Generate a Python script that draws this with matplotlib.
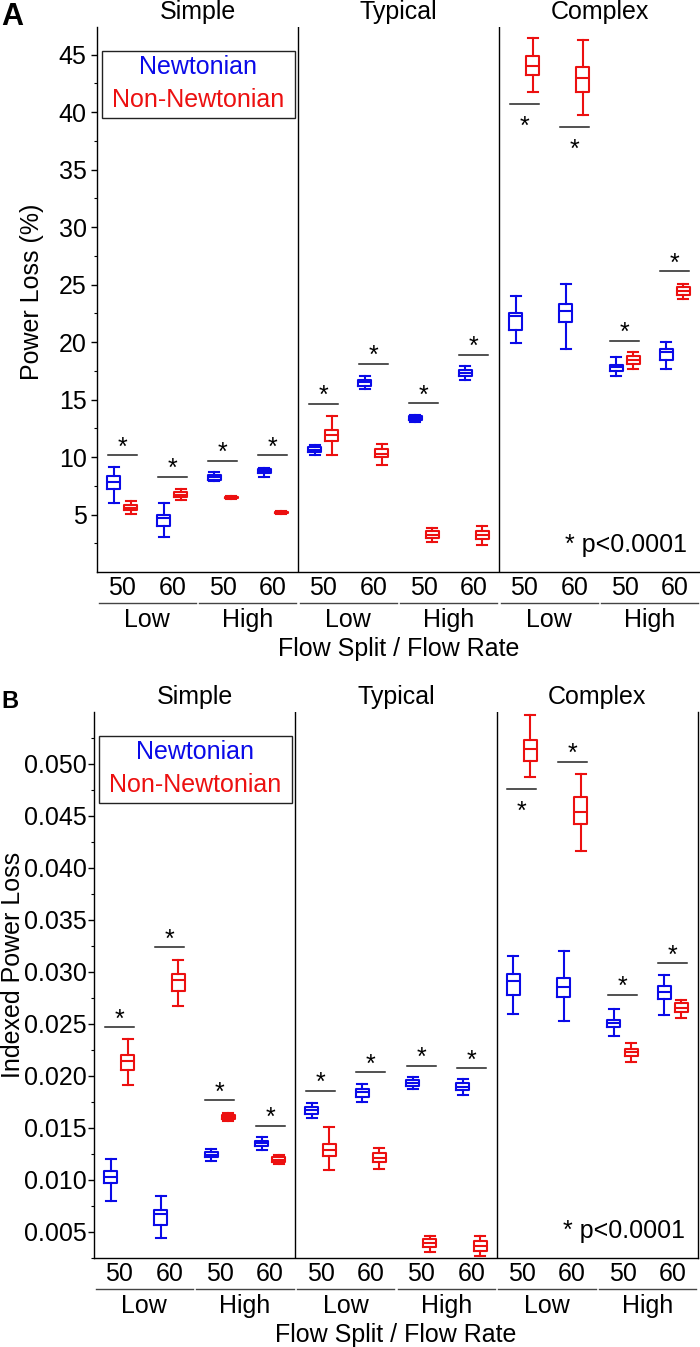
import matplotlib
matplotlib.use('Agg')
import matplotlib.pyplot as plt
import matplotlib.transforms as mtrans
from matplotlib.patches import Rectangle
from matplotlib.ticker import MultipleLocator, FormatStrFormatter

plt.rcParams['font.family'] = ['Liberation Sans', 'DejaVu Sans']

# ---------------- data ----------------
complexities = ['Simple', 'Typical', 'Complex']
flow_splits = ['Low', 'High']
flow_rates = ['50', '60']
fluids = ['Newtonian', 'Non-Newtonian']

# each tuple: (whisker low, q1, median, q3, whisker high); 12 groups:
# Simple L50, L60, H50, H60, Typical ..., Complex ...
powerloss_newtonian = [
    (5.98, 7.26, 7.81, 8.33, 9.15), (3.09, 3.98, 4.71, 5.00, 5.98),
    (7.90, 8.05, 8.25, 8.45, 8.70), (8.30, 8.60, 8.78, 8.95, 9.10),
    (10.16, 10.42, 10.65, 10.85, 11.09), (15.93, 16.20, 16.50, 16.74, 17.09),
    (13.10, 13.25, 13.40, 13.55, 13.65), (16.74, 17.03, 17.32, 17.55, 17.90),
    (19.93, 21.03, 22.25, 22.54, 24.04), (19.43, 21.72, 22.68, 23.35, 25.09),
    (17.03, 17.52, 17.81, 18.04, 18.71), (17.67, 18.48, 19.11, 19.41, 20.02),
]
powerloss_nonnewtonian = [
    (5.06, 5.37, 5.61, 5.81, 6.22), (6.24, 6.54, 6.74, 6.94, 7.26),
    (6.40, 6.45, 6.50, 6.55, 6.60), (5.10, 5.15, 5.20, 5.25, 5.30),
    (10.16, 11.37, 11.90, 12.33, 13.61), (9.35, 10.02, 10.30, 10.74, 11.15),
    (2.63, 2.97, 3.26, 3.55, 3.84), (2.33, 2.89, 3.26, 3.61, 3.98),
    (41.76, 43.20, 43.98, 44.85, 46.45), (39.72, 41.76, 42.94, 43.90, 46.24),
    (17.67, 18.13, 18.48, 18.77, 19.11), (23.76, 24.13, 24.48, 24.80, 25.09),
]
powerloss_sig = [10.16, 8.30, 9.67, 10.16, 14.65, 18.10, 14.70, 18.90,
                 40.71, 38.74, 20.13, 26.16]
powerloss_star_below = [False] * 8 + [True, True, False, False]

ipl_newtonian = [
    (0.00795, 0.00974, 0.01032, 0.01089, 0.01200), (0.00439, 0.00567, 0.00673, 0.00712, 0.00846),
    (0.01179, 0.01218, 0.01243, 0.01266, 0.01295), (0.01286, 0.01327, 0.01353, 0.01378, 0.01413),
    (0.01593, 0.01635, 0.01667, 0.01699, 0.01743), (0.01753, 0.01801, 0.01840, 0.01875, 0.01920),
    (0.01875, 0.01904, 0.01930, 0.01962, 0.01984), (0.01817, 0.01865, 0.01897, 0.01933, 0.01968),
    (0.02596, 0.02776, 0.02913, 0.02981, 0.03147), (0.02522, 0.02757, 0.02849, 0.02939, 0.03195),
    (0.02378, 0.02468, 0.02506, 0.02538, 0.02641), (0.02587, 0.02737, 0.02801, 0.02859, 0.02971),
]
ipl_nonnewtonian = [
    (0.01913, 0.02058, 0.02147, 0.02202, 0.02356), (0.02667, 0.02817, 0.02917, 0.02981, 0.03115),
    (0.01567, 0.01587, 0.01609, 0.01628, 0.01647), (0.01154, 0.01170, 0.01192, 0.01218, 0.01240),
    (0.01093, 0.01234, 0.01288, 0.01346, 0.01506), (0.01103, 0.01176, 0.01215, 0.01256, 0.01311),
    (0.00311, 0.00353, 0.00391, 0.00430, 0.00462), (0.00272, 0.00320, 0.00368, 0.00417, 0.00462),
    (0.04872, 0.05022, 0.05135, 0.05224, 0.05462), (0.04157, 0.04417, 0.04532, 0.04676, 0.04904),
    (0.02131, 0.02186, 0.02228, 0.02260, 0.02314), (0.02555, 0.02609, 0.02651, 0.02699, 0.02724),
]
ipl_sig = [0.02468, 0.03237, 0.01766, 0.01522, 0.01859, 0.02032, 0.02096, 0.02074,
           0.04760, 0.05016, 0.02776, 0.03082]
ipl_star_below = [False] * 8 + [True, False, False, False]

# ---------------- style ----------------
BLUE = '#0a0ae8'
RED = '#ec1010'
FS = 18
W, H = 700, 1347

fig = plt.figure(figsize=(W / 100, H / 100), dpi=100)


def to_stats(rows):
    return [dict(whislo=r[0], q1=r[1], med=r[2], q3=r[3], whishi=r[4], fliers=[])
            for r in rows]


def draw_panel(ax, newt, nonnewt, sig, below, ylim, major, minor, fmt, ylabel,
               ylabel_x, ylabel_y, ypad, right_spine):
    n = len(newt)
    centers = [i + 0.5 for i in range(n)]
    for rows, off, col in ((newt, -0.17, BLUE), (nonnewt, 0.17, RED)):
        lp = dict(color=col, lw=1.5)
        ax.bxp(to_stats(rows), positions=[c + off for c in centers], widths=0.26,
               capwidths=0.2, showfliers=False, boxprops=lp, whiskerprops=lp,
               capprops=lp, medianprops=lp, manage_ticks=False)
    # significance bars
    for c, s, b in zip(centers, sig, below):
        ax.plot([c - 0.29, c + 0.29], [s, s], color='#222222', lw=1.1)
        ax.annotate('*', (c, s), xytext=(0, -21.5 if b else 0.5),
                    textcoords='offset points', ha='center', va='baseline',
                    fontsize=FS)
    ax.set_xlim(0, n)
    ax.set_ylim(*ylim)
    for d in (4, 8):
        ax.axvline(d, color='k', lw=1.0)
    ax.spines['top'].set_visible(False)
    ax.spines['right'].set_visible(right_spine)
    for sp in ('left', 'bottom', 'right'):
        ax.spines[sp].set_linewidth(1.0)
    ax.yaxis.set_major_locator(MultipleLocator(major))
    ax.yaxis.set_minor_locator(MultipleLocator(minor))
    ax.yaxis.set_major_formatter(FormatStrFormatter(fmt))
    ax.tick_params(axis='y', which='major', length=4, width=1, labelsize=FS, pad=ypad)
    ax.tick_params(axis='y', which='minor', length=2.5, width=0.8)
    rate_labels = [flow_rates[i % 2] for i in range(n)]
    ax.set_xticks(centers)
    ax.set_xticklabels(rate_labels)
    ax.tick_params(axis='x', length=0, labelsize=FS, pad=3)
    ax.set_ylabel(ylabel, fontsize=FS)
    ax.yaxis.set_label_coords(ylabel_x, ylabel_y)

    trans = mtrans.blended_transform_factory(ax.transData, ax.transAxes)
    # group underlines and split labels
    for k in range(6):
        ax.plot([2 * k + 0.03, 2 * k + 1.97], [-0.057, -0.057], color='#444444',
                lw=1.0, transform=trans, clip_on=False)
        ax.text(2 * k + 1.0, -0.101, flow_splits[k % 2], transform=trans,
                ha='center', va='baseline', fontsize=FS)
    ax.text(0.5, -0.154, 'Flow Split / Flow Rate', transform=ax.transAxes,
            ha='center', va='baseline', fontsize=FS)
    # complexity titles
    for k, name in enumerate(complexities):
        ax.text(4 * k + 2.0, 1.015, name, transform=trans, ha='center',
                va='baseline', fontsize=FS)
    # legend box
    ax.add_patch(Rectangle((0.0083, 0.833), 0.32, 0.123, transform=ax.transAxes,
                           fill=False, ec='#222222', lw=1.0))
    ax.text(0.1675, 0.926, fluids[0], color=BLUE, transform=ax.transAxes,
            ha='center', va='center', fontsize=FS)
    ax.text(0.1675, 0.866, fluids[1], color=RED, transform=ax.transAxes,
            ha='center', va='center', fontsize=FS)
    ax.text(0.979, 0.036, '* p<0.0001', transform=ax.transAxes, ha='right',
            va='baseline', fontsize=FS)


axA = fig.add_axes([97 / W, 1 - 572 / H, 603 / W, 545 / H])
draw_panel(axA, powerloss_newtonian, powerloss_nonnewtonian, powerloss_sig,
           powerloss_star_below, (0.02, 47.4), 5, 2.5, '%d', 'Power Loss (%)',
           -0.088, 0.514, 3.5, False)

axB = fig.add_axes([94 / W, 1 - 1258 / H, 604 / W, 546 / H])
draw_panel(axB, ipl_newtonian, ipl_nonnewtonian, ipl_sig, ipl_star_below,
           (0.0025, 0.05495), 0.005, 0.0025, '%.3f', 'Indexed Power Loss',
           -0.114, 0.537, 1.0, True)

fig.text(1 / W, 1 - 25 / H, 'A', fontsize=22, fontweight='bold', va='baseline')
fig.text(1 / W, 1 - 708 / H, 'B', fontsize=17, fontweight='bold', va='baseline')

fig.savefig('out.png', dpi=100)
